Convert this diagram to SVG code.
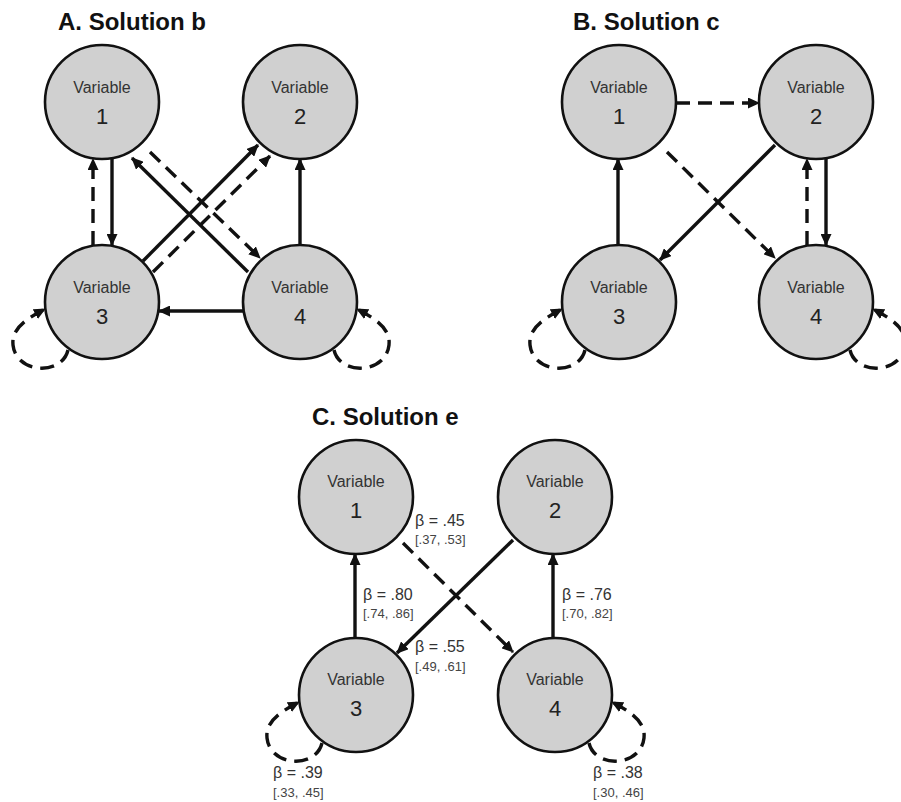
<svg xmlns="http://www.w3.org/2000/svg" width="901" height="802" viewBox="0 0 901 802">
<defs>
<marker id="ah" viewBox="0 0 12 11" markerUnits="userSpaceOnUse" markerWidth="12" markerHeight="11" refX="11" refY="5.5" orient="auto">
<path d="M0,0 L12,5.5 L0,11 z" fill="#111"/>
</marker>
<style>
.node circle{fill:#d0d0d0;stroke:#111;stroke-width:2.6}
.v{font-family:"Liberation Sans",Arial,sans-serif;font-size:16px;fill:#333;text-anchor:middle}
.n{font-family:"Liberation Sans",Arial,sans-serif;font-size:22px;fill:#222;text-anchor:middle}
.title{font-family:"Liberation Sans",Arial,sans-serif;font-size:24px;font-weight:bold;fill:#111}
.b{font-family:"Liberation Sans",Arial,sans-serif;font-size:16px;fill:#333}
.ci{font-family:"Liberation Sans",Arial,sans-serif;font-size:13px;fill:#444}
.s{fill:none;stroke:#111;stroke-width:3.4;marker-end:url(#ah)}
.d{fill:none;stroke:#111;stroke-width:3.4;stroke-dasharray:14 8;marker-end:url(#ah)}
</style>
</defs>
<rect width="901" height="802" fill="#fff"/>

<text class="title" x="58" y="30">A. Solution b</text>
<text class="title" x="573" y="30">B. Solution c</text>
<text class="title" x="312" y="425">C. Solution e</text>

<g id="connectors">
<!-- Panel A -->
<line class="s" x1="112" y1="159" x2="112" y2="245"/>
<line class="d" x1="93" y1="245" x2="93" y2="159"/>
<line class="s" x1="248" y1="272" x2="132" y2="158"/>
<line class="d" x1="150" y1="152" x2="260" y2="258"/>
<line class="s" x1="143" y1="261" x2="258" y2="145"/>
<line class="d" x1="153" y1="272" x2="270" y2="156"/>
<line class="s" x1="300" y1="245" x2="300" y2="159"/>
<line class="s" x1="243" y1="311" x2="159" y2="311"/>
<path class="d" d="M68,350 C62,376 16,374 13,345 C11,328 28,318 45,309"/>
<path class="d" d="M334,350 C340,376 386,374 389,345 C391,328 374,318 357,309"/>
<!-- Panel B -->
<line class="d" x1="676" y1="103" x2="759" y2="103"/>
<line class="d" x1="667" y1="152" x2="775" y2="258"/>
<line class="s" x1="775" y1="145" x2="660" y2="260"/>
<line class="s" x1="618" y1="245" x2="618" y2="159"/>
<line class="d" x1="807" y1="245" x2="807" y2="159"/>
<line class="s" x1="826" y1="159" x2="826" y2="245"/>
<path class="d" d="M585,350 C579,376 533,374 530,345 C528,328 545,318 562,309"/>
<path class="d" d="M850,350 C856,376 902,374 905,345 C907,328 890,318 873,309"/>
<!-- Panel C -->
<line class="s" x1="355" y1="638" x2="355" y2="554"/>
<line class="s" x1="553" y1="638" x2="553" y2="554"/>
<line class="d" x1="403" y1="543" x2="513" y2="652"/>
<line class="s" x1="513" y1="540" x2="397" y2="653"/>
<path class="d" d="M322,743 C316,769 270,767 267,738 C265,721 282,711 299,702"/>
<path class="d" d="M589,743 C595,769 641,767 644,738 C646,721 629,711 612,702"/>
</g>

<g id="A1" class="node"><circle cx="102" cy="102" r="57"/><text class="v" x="102" y="93">Variable</text><text class="n" x="102" y="124">1</text></g>
<g id="A2" class="node"><circle cx="300" cy="102" r="57"/><text class="v" x="300" y="93">Variable</text><text class="n" x="300" y="124">2</text></g>
<g id="A3" class="node"><circle cx="102" cy="302" r="57"/><text class="v" x="102" y="293">Variable</text><text class="n" x="102" y="324">3</text></g>
<g id="A4" class="node"><circle cx="300" cy="302" r="57"/><text class="v" x="300" y="293">Variable</text><text class="n" x="300" y="324">4</text></g>

<g id="B1" class="node"><circle cx="619" cy="102" r="57"/><text class="v" x="619" y="93">Variable</text><text class="n" x="619" y="124">1</text></g>
<g id="B2" class="node"><circle cx="816" cy="102" r="57"/><text class="v" x="816" y="93">Variable</text><text class="n" x="816" y="124">2</text></g>
<g id="B3" class="node"><circle cx="619" cy="302" r="57"/><text class="v" x="619" y="293">Variable</text><text class="n" x="619" y="324">3</text></g>
<g id="B4" class="node"><circle cx="816" cy="302" r="57"/><text class="v" x="816" y="293">Variable</text><text class="n" x="816" y="324">4</text></g>

<g id="C1" class="node"><circle cx="356" cy="497" r="57"/><text class="v" x="356" y="487">Variable</text><text class="n" x="356" y="518">1</text></g>
<g id="C2" class="node"><circle cx="555" cy="497" r="57"/><text class="v" x="555" y="487">Variable</text><text class="n" x="555" y="518">2</text></g>
<g id="C3" class="node"><circle cx="356" cy="695" r="57"/><text class="v" x="356" y="685">Variable</text><text class="n" x="356" y="716">3</text></g>
<g id="C4" class="node"><circle cx="555" cy="695" r="57"/><text class="v" x="555" y="685">Variable</text><text class="n" x="555" y="716">4</text></g>

<g id="labels">
<text class="b" x="415" y="526">β = .45</text><text class="ci" x="415" y="544">[.37, .53]</text>
<text class="b" x="363" y="600">β = .80</text><text class="ci" x="363" y="618">[.74, .86]</text>
<text class="b" x="562" y="600">β = .76</text><text class="ci" x="562" y="618">[.70, .82]</text>
<text class="b" x="415" y="652">β = .55</text><text class="ci" x="415" y="671">[.49, .61]</text>
<text class="b" x="273" y="778">β = .39</text><text class="ci" x="273" y="797">[.33, .45]</text>
<text class="b" x="593" y="778">β = .38</text><text class="ci" x="593" y="797">[.30, .46]</text>
</g>
</svg>
